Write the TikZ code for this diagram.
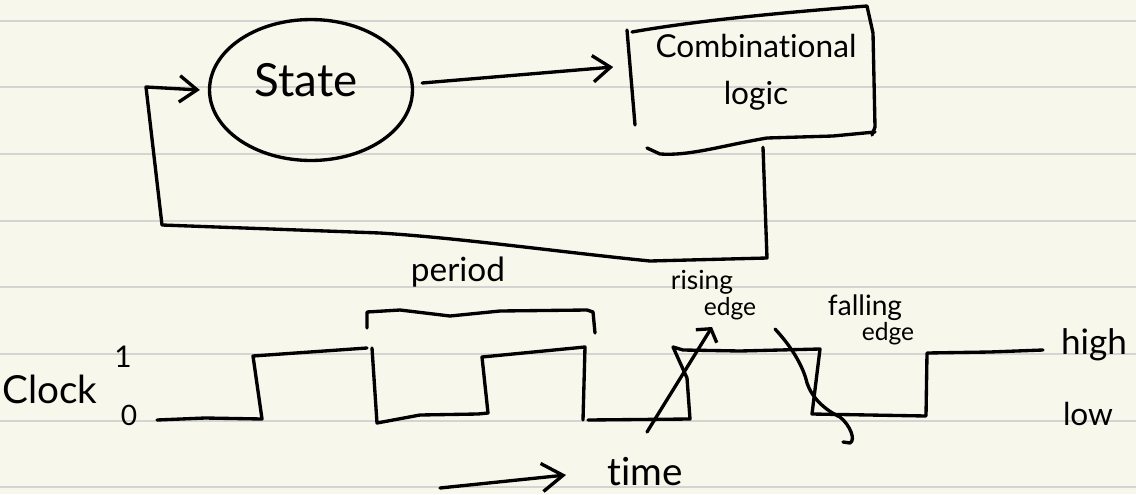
\documentclass[tikz,border=0pt]{standalone}
\usepackage{fontspec}
\setmainfont{Lato}[Ligatures=NoCommon]
\usetikzlibrary{arrows.meta,shapes.geometric}
\definecolor{paper}{RGB}{248,247,235}
\definecolor{ruling}{RGB}{212,212,210}
\definecolor{ink}{RGB}{0,0,0}

\begin{document}
\begin{tikzpicture}[x=0.02cm,y=-0.02cm,
  pen/.style={draw=ink,line width=1.9pt,line cap=round,line join=round},
  barb/.style={-{Straight Barb[length=10pt,width=15pt]}},
  lbl/.style={inner sep=0pt,text=ink},
  fs/.style={font=\fontsize{#1}{#1}\selectfont},
]
% paper and ruled lines
\fill[paper] (0,0) rectangle (1136,494);
\useasboundingbox (0,0) rectangle (1136,494);
\foreach \y in {21,87,154,221,287,354,421,487}
  \draw[ruling,line width=1.1pt] (0,\y) -- (1136,\y);

% state bubble
\node[pen,ellipse,minimum width=4.06cm,minimum height=2.82cm,inner sep=0pt] (state) at (311,90) {};
\node[lbl,fs=26] (statetxt) at (306,80) {State};

% combinational logic block
\node[lbl,minimum width=4.86cm,minimum height=2.6cm,align=center,
      font=\fontsize{18}{27}\selectfont] (comb) at (756,72) {Combinational\\logic};
\draw[pen] (627,30) -- (635,125);
\draw[pen] (632,32) .. controls (700,20) and (790,12) .. (867,6)
           -- (873,33) -- (875,127) -- (872,135);
\draw[pen] (875,132) -- (833,136) -- (767,138)
           .. controls (720,146) and (690,156) .. (660,154) -- (647,148);

% state -> logic
\draw[pen,barb] ([shift={(0.16cm,0.14cm)}]state.east)
  -- ([shift={(-0.42cm,0.1cm)}]comb.west);

% feedback loop: logic -> state
\draw[pen,barb] ([shift={(0.14cm,-0.2cm)}]comb.south) -- (767,258) -- (650,261)
  .. controls (560,252) and (460,238) .. (380,233) -- (162,225) -- (146,87)
  -- ([xshift=-0.16cm]state.west);

% clock waveform
\node[lbl,fs=22] (clock) at (50,389) {Clock};
\node[lbl,fs=17] (one) at (123,357) {1};
\node[lbl,fs=16] (zero) at (129,415) {0};
\draw[pen] (157,420) -- (205,418) -- (262,419) -- (253,356) -- (367,348);
\draw[pen] (372,348) -- (377,423) -- (420,415) -- (478,414) -- (488,413)
  -- (482,357) -- (585,347) -- (583,420);
\draw[pen] (588,420) -- (690,419) -- (687,378) -- (673,347) -- (683,350)
  -- (740,351) -- (820,349) -- (812,414) -- (926,416) -- (927,353)
  -- (990,352) -- (1043,350);
\node[lbl,fs=20] (high) at (1094,345) {high};
\node[lbl,fs=18] (low) at (1088,414) {low};

% period bracket
\draw[pen] (367,328) -- (367,312) -- (400,310) -- (450,316) -- (500,311)
  -- (587,310) -- (593,312) -- (595,333);
\node[lbl,fs=19] (period) at (458,272) {period};

% rising edge marker
\draw[pen,-{Straight Barb[length=5pt,width=14pt]}] (647,432) -- (712,327);
\node[lbl,fs=15] (rising) at (702,282) {rising};
\node[lbl,fs=14] (redge) at (730,309) {edge};

% falling edge marker
\draw[pen] (775,329) .. controls (790,345) and (803,365) .. (807,383)
  .. controls (812,398) and (825,410) .. (840,417)
  .. controls (850,425) and (856,440) .. (850,443) -- (843,442);
\node[lbl,fs=16] (falling) at (865,308) {falling};
\node[lbl,fs=14] (fedge) at (888,334) {edge};

% time axis
\draw[pen,-{Straight Barb[length=12pt,width=16pt]}] (440,488) -- (566,475);
\node[lbl,fs=22] (time) at (645,472) {time};
\end{tikzpicture}
\end{document}
